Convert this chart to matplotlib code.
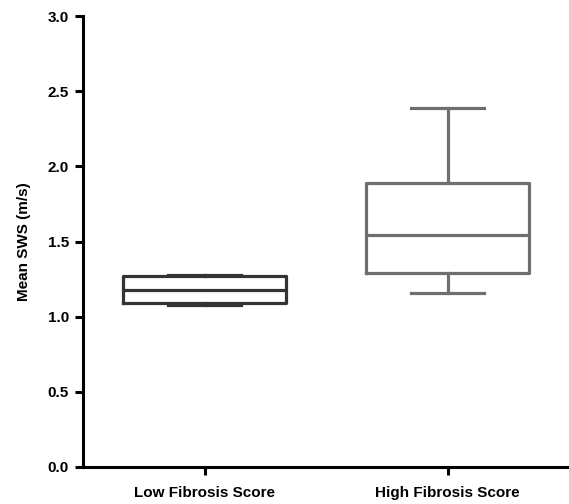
import matplotlib
matplotlib.use("Agg")
import matplotlib.pyplot as plt

categories = ["Low Fibrosis Score", "High Fibrosis Score"]
whislo = [1.08, 1.16]
q1 = [1.09, 1.29]
med = [1.18, 1.54]
q3 = [1.27, 1.89]
whishi = [1.28, 2.39]
colors = ["#333333", "#6f6f6f"]
yticks = [0.0, 0.5, 1.0, 1.5, 2.0, 2.5, 3.0]

plt.rcParams['font.family'] = ['Liberation Sans', 'DejaVu Sans']
plt.rcParams['font.weight'] = 'bold'

fig = plt.figure(figsize=(5.69, 5.04), dpi=100)
ax = fig.add_axes([83/569, 37/504, 1 - 83/569, (467-16)/504])

for i in range(len(categories)):
    st = [dict(whislo=whislo[i], q1=q1[i], med=med[i], q3=q3[i], whishi=whishi[i], fliers=[])]
    lw = 2.3
    props = dict(color=colors[i], linewidth=lw)
    ax.bxp(st, positions=[i + 1], widths=0.67, capwidths=0.30, showfliers=False,
           boxprops=props, medianprops=props, whiskerprops=props, capprops=props,
           manage_ticks=False)

ax.set_xlim(0.5, 2.5)
ax.set_ylim(0, 3.0)
ax.set_xticks([1, 2])
ax.set_xticklabels(categories, fontsize=11, fontweight='bold')
ax.set_yticks(yticks)
ax.set_yticklabels([f"{v:.1f}" for v in yticks], fontsize=11, fontweight='bold')
ax.set_ylabel("Mean SWS (m/s)", fontsize=11, fontweight='bold', labelpad=12)

for s in ['top', 'right']:
    ax.spines[s].set_visible(False)
for s in ['left', 'bottom']:
    ax.spines[s].set_linewidth(2.2)
    ax.spines[s].set_color('black')
ax.tick_params(axis='both', width=2.2, length=6, colors='black', direction='out')
ax.tick_params(axis='x', pad=8)
ax.tick_params(axis='y', pad=4)

fig.savefig("out.png", dpi=100)
